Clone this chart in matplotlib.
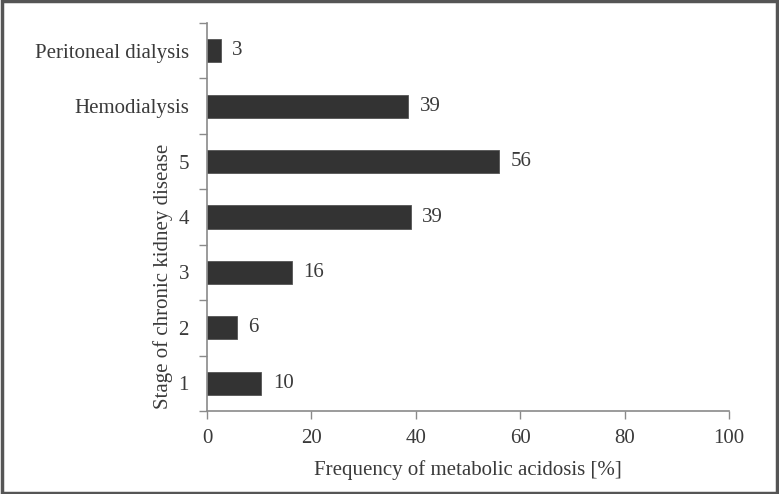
import matplotlib.pyplot as plt
from matplotlib.patches import Rectangle
import numpy as np

categories = ["1", "2", "3", "4", "5", "Hemodialysis", "Peritoneal dialysis"]
bar_values = [10.4, 5.7, 16.3, 39.0, 56.0, 38.5, 2.6]
label_values = [10, 6, 16, 39, 56, 39, 3]

plt.rcParams["font.family"] = ["Liberation Serif", "DejaVu Serif"]
text_color = "#3a3a3a"
spine_color = "#8a8a8a"
fs = 15

fig = plt.figure(figsize=(7.79, 4.94), dpi=100)
ax = fig.add_axes([207 / 779, 1 - 411 / 494, 522 / 779, 388 / 494])

y = np.arange(len(categories))
ax.barh(y, bar_values, height=0.42, color="#333333", edgecolor="#555555", linewidth=0.6)
for yi, v, lab in zip(y, bar_values, label_values):
    ax.text(v + 2.2, yi, str(lab), va="center", ha="left", fontsize=fs, color=text_color)

ax.set_xlim(0, 100)
ax.set_ylim(-0.5, len(categories) - 0.5)
ax.set_xticks(np.arange(0, 101, 20))
ax.set_yticks(y)
ax.set_yticklabels(categories)
ax.set_yticks(np.arange(-0.5, len(categories), 1), minor=True)

ax.tick_params(axis="y", which="major", length=0, pad=13, labelsize=fs, labelcolor=text_color)
ax.tick_params(axis="y", which="minor", length=6, width=1, color=spine_color, direction="out")
ax.tick_params(axis="x", length=6, width=1, color=spine_color, direction="out",
               pad=7, labelsize=fs, labelcolor=text_color)

for s in ["top", "right"]:
    ax.spines[s].set_visible(False)
for s in ["left", "bottom"]:
    ax.spines[s].set_color(spine_color)
    ax.spines[s].set_linewidth(1.2)

ax.set_xlabel("Frequency of metabolic acidosis [%]", fontsize=fs, color=text_color, labelpad=9)
fig.text(163 / 779, 1 - 276 / 494, "Stage of chronic kidney disease", rotation=90,
         ha="center", va="center", fontsize=fs, color=text_color)

fig.patches.append(Rectangle((0.002, 0.003), 0.996, 0.994, transform=fig.transFigure,
                             fill=False, edgecolor="#555555", linewidth=2.5))

fig.savefig("out.png", dpi=100)
